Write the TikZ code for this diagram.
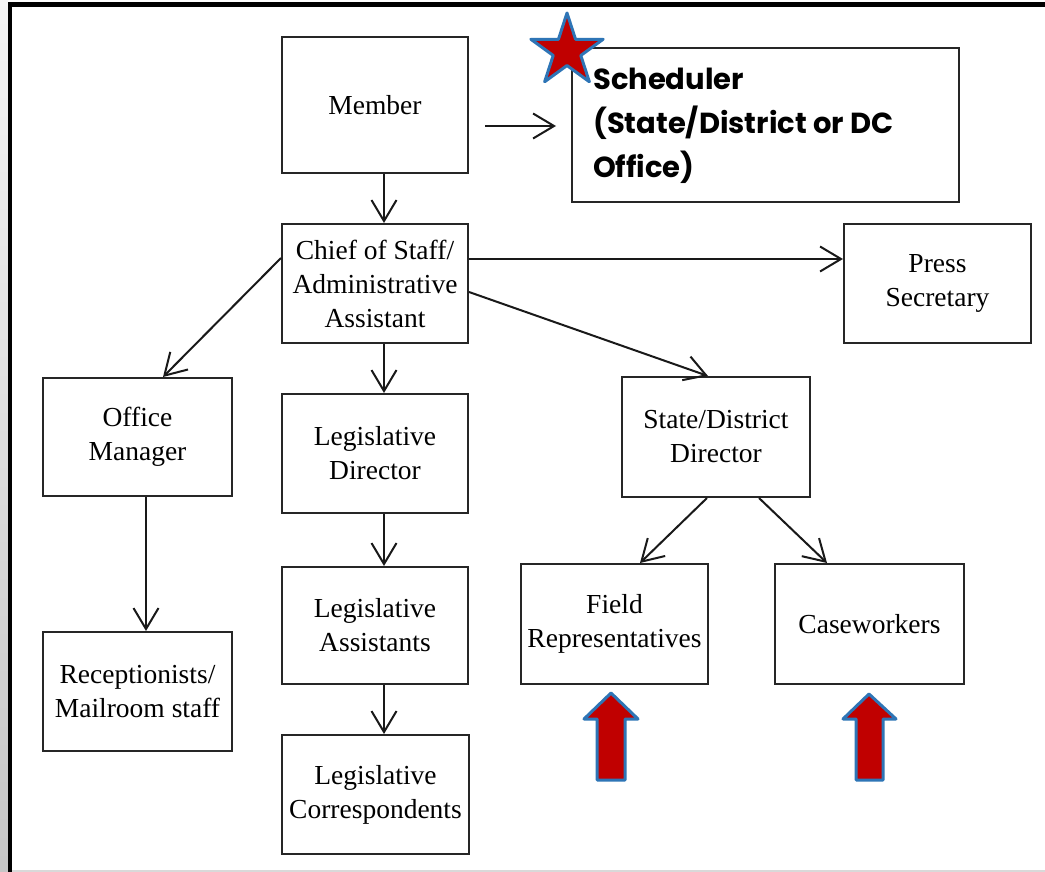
\documentclass[tikz,border=0pt]{standalone}
\usepackage{fontspec}
\setmainfont{Liberation Serif}
\newfontfamily\schedfont{Poppins}
\usetikzlibrary{arrows.meta,calc}
\definecolor{redfill}{HTML}{C00000}
\definecolor{blueline}{HTML}{2E75B6}
\begin{document}
\begin{tikzpicture}[x=1pt,y=-1pt,
  box/.style={draw=black!85, line width=2pt, fill=white, inner sep=0pt, align=center,
     font=\fontsize{27.5}{34}\selectfont},
  arr/.style={draw=black!90, line width=2pt, -{Straight Barb[length=21pt,width=25pt,line width=2pt]}},
  bigarrow/.style={fill=redfill, draw=blueline, line width=3pt, line join=round},
]
\useasboundingbox (0,0) rectangle (1045,872);
\fill[white] (0,0) rectangle (1045,872);
% frame
\shade[top color=gray!8, bottom color=gray!45] (0,0) rectangle (8,872);
\draw[black, line width=5pt] (8,5) -- (1045,5);
\draw[black, line width=4pt] (10,3) -- (10,872);
\draw[gray!30, line width=1.5pt] (12,871) -- (1045,871);

% nodes
\node[box, minimum width=186pt, minimum height=136pt] (member) at (375,105) {Member};
\node[box, minimum width=387pt, minimum height=154pt] (sched) at (765.5,125) {};
\node[anchor=north west, inner sep=0pt, align=left, font=\schedfont\bfseries\fontsize{29}{44}\selectfont] (schedtext) at (593,68)
  {Scheduler\\(State/District or DC\\Office)};
\node[box, minimum width=186pt, minimum height=119pt] (chief) at (375,283.5) {Chief of Staff/\\Administrative\\Assistant};
\node[box, minimum width=187pt, minimum height=119pt] (press) at (937.5,283.5) {Press\\Secretary};
\node[box, minimum width=189pt, minimum height=118pt] (office) at (137.5,437) {Office\\Manager};
\node[box, minimum width=186pt, minimum height=119pt] (ld) at (375,453.5) {Legislative\\Director};
\node[box, minimum width=188pt, minimum height=120pt] (sdd) at (716,437) {State/District\\Director};
\node[box, minimum width=186pt, minimum height=117pt] (la) at (375,625.5) {Legislative\\Assistants};
\node[box, minimum width=187pt, minimum height=119pt] (lc) at (375.5,794.5) {Legislative\\Correspondents};
\node[box, minimum width=189pt, minimum height=119pt] (recep) at (137.5,691.5) {Receptionists/\\Mailroom staff};
\node[box, minimum width=187pt, minimum height=120pt] (field) at (614.5,624) {Field\\Representatives};
\node[box, minimum width=189pt, minimum height=120pt] (case) at (869.5,624) {Caseworkers};

% connectors
\draw[arr] ($(member.east)+(16,21)$) coordinate (m1) -- ($(sched.west)+(-15,1)$) coordinate (m2);
\draw[arr] ([xshift=9pt]member.south) -- ([xshift=9pt]member.south |- chief.north);
\draw[arr] ([yshift=24.5pt]chief.east) -- ([yshift=24.5pt]chief.east -| press.west);
\draw[arr] ([yshift=25.5pt]chief.west) -- ([xshift=25.5pt]office.north);
\draw[arr] ([yshift=-8.5pt]chief.east) -- ([xshift=-8pt]sdd.north);
\draw[arr] ([xshift=9pt]chief.south) -- ([xshift=9pt]chief.south |- ld.north);
\draw[arr] ([xshift=9pt]ld.south) -- ([xshift=9pt]ld.south |- la.north);
\draw[arr] ([xshift=9pt]la.south) -- ([xshift=9pt]la.south |- lc.north);
\draw[arr] ([xshift=8.5pt]office.south) -- ([xshift=8.5pt]office.south |- recep.north);
\draw[arr] ([xshift=-9pt]sdd.south) -- ([xshift=25.5pt]field.north);
\draw[arr] ([xshift=43pt]sdd.south) -- ([xshift=-42.5pt]case.north);

% red block arrows
\draw[bigarrow] (611,693) -- (638,719) -- (625,719) -- (625,780) -- (597,780) -- (597,719) -- (584,719) -- cycle;
\draw[bigarrow] (869,694) -- (896,719) -- (883,719) -- (883,780) -- (856,780) -- (856,719) -- (843,719) -- cycle;

% star
\begin{scope}[shift={(567,51)}]
\draw[bigarrow] (90:38pt) -- (126:14.5pt) -- (162:38pt) -- (198:14.5pt) -- (234:38pt) -- (270:14.5pt)
  -- (306:38pt) -- (342:14.5pt) -- (18:38pt) -- (54:14.5pt) -- cycle;
\end{scope}
\end{tikzpicture}
\end{document}
